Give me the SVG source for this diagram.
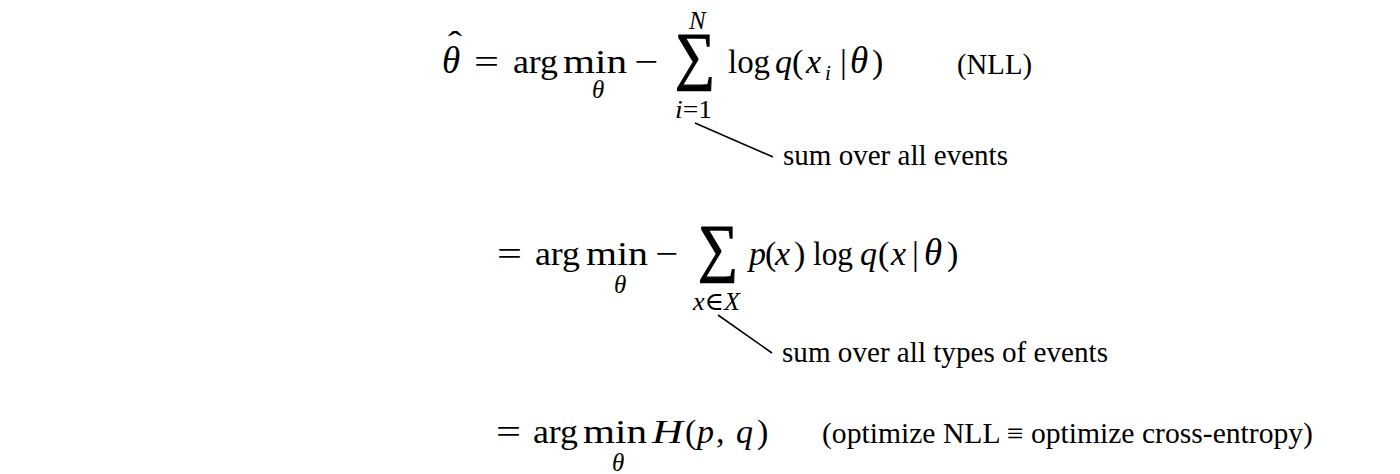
<svg xmlns="http://www.w3.org/2000/svg" width="1400" height="474" viewBox="0 0 1400 474">
<style>
text{font-family:"Liberation Serif","DejaVu Serif",serif;fill:#000}
.m{font-size:34px}
.t{font-size:37px}
.i{font-style:italic}
.s{font-size:25px}
.ss{font-size:21px}
.big{font-size:64px;stroke:#000;stroke-width:1.3}
.note{font-size:29px}
.lead{stroke:#000;stroke-width:1.6;fill:none}
</style>
<rect width="1400" height="474" fill="#fff"/>
<g id="eq1">
<text class="t i" x="442" y="73">θ</text>
<text class="m" x="448" y="55" textLength="14" lengthAdjust="spacingAndGlyphs">ˆ</text>
<text class="m" x="474" y="73" textLength="25" lengthAdjust="spacingAndGlyphs">=</text>
<text class="m" x="513" y="73" textLength="45" lengthAdjust="spacingAndGlyphs">arg</text>
<text class="m" x="563" y="73" textLength="64" lengthAdjust="spacingAndGlyphs">min</text>
<text class="s i" x="592" y="98">θ</text>
<text class="m" x="634" y="73" textLength="24" lengthAdjust="spacingAndGlyphs">−</text>
<text class="big" x="675" y="77" textLength="40" lengthAdjust="spacingAndGlyphs">∑</text>
<text class="s i" x="689" y="29">N</text>
<text class="s" x="675" y="118" textLength="37" lengthAdjust="spacingAndGlyphs"><tspan class="i">i</tspan>=1</text>
<text class="m" x="728" y="73" textLength="42" lengthAdjust="spacingAndGlyphs">log</text>
<text class="m i" x="775" y="73">q</text>
<text class="m" x="792" y="73">(</text>
<text class="m i" x="806" y="73">x</text>
<text class="ss i" x="825" y="80">i</text>
<text class="m" x="840" y="73">|</text>
<text class="t i" x="850" y="73">θ</text>
<text class="m" x="872" y="73">)</text>
</g>
<g id="eq2">
<text class="m" x="497" y="265" textLength="25" lengthAdjust="spacingAndGlyphs">=</text>
<text class="m" x="535" y="265" textLength="45" lengthAdjust="spacingAndGlyphs">arg</text>
<text class="m" x="586" y="265" textLength="62" lengthAdjust="spacingAndGlyphs">min</text>
<text class="s i" x="614" y="293">θ</text>
<text class="m" x="655" y="265" textLength="23" lengthAdjust="spacingAndGlyphs">−</text>
<text class="big" x="698" y="269" textLength="40" lengthAdjust="spacingAndGlyphs">∑</text>
<text class="s" x="693" y="310" textLength="47" lengthAdjust="spacingAndGlyphs"><tspan class="i">x</tspan>∈<tspan class="i">X</tspan></text>
<text class="m i" x="749" y="265">p</text>
<text class="m" x="765" y="265">(</text>
<text class="m i" x="775" y="265">x</text>
<text class="m" x="794" y="265">)</text>
<text class="m" x="813" y="265" textLength="40" lengthAdjust="spacingAndGlyphs">log</text>
<text class="m i" x="860" y="265">q</text>
<text class="m" x="878" y="265">(</text>
<text class="m i" x="891" y="265">x</text>
<text class="m" x="912" y="265">|</text>
<text class="t i" x="924" y="265">θ</text>
<text class="m" x="947" y="265">)</text>
</g>
<g id="eq3">
<text class="m" x="496" y="443" textLength="25" lengthAdjust="spacingAndGlyphs">=</text>
<text class="m" x="533" y="443" textLength="45" lengthAdjust="spacingAndGlyphs">arg</text>
<text class="m" x="583" y="443" textLength="64" lengthAdjust="spacingAndGlyphs">min</text>
<text class="s i" x="612" y="471">θ</text>
<text class="m i" x="652" y="443" textLength="31" lengthAdjust="spacingAndGlyphs">H</text>
<text class="m" x="685" y="443">(</text>
<text class="m i" x="697" y="443">p</text>
<text class="m" x="716" y="443">,</text>
<text class="m i" x="736" y="443">q</text>
<text class="m" x="757" y="443">)</text>
</g>
<g id="labels">
<text class="note" x="957" y="74" textLength="75" lengthAdjust="spacingAndGlyphs">(NLL)</text>
<text class="note" x="783" y="165" textLength="225" lengthAdjust="spacingAndGlyphs">sum over all events</text>
<text class="note" x="782" y="362" textLength="326" lengthAdjust="spacingAndGlyphs">sum over all types of events</text>
<text class="note" x="822" y="443" textLength="491" lengthAdjust="spacingAndGlyphs">(optimize NLL ≡ optimize cross-entropy)</text>
</g>
<g id="connectors">
<line class="lead" x1="695" y1="123" x2="773" y2="157"/>
<line class="lead" x1="718" y1="315" x2="772" y2="353"/>
</g>
</svg>
